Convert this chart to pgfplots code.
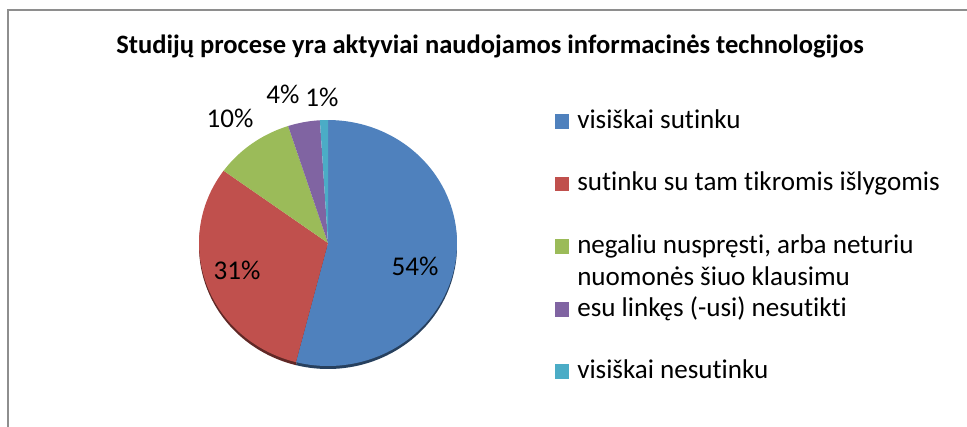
\documentclass[border=0pt]{standalone}
\usepackage{fontspec}
\setmainfont{Carlito}[Ligatures={NoCommon}]
\usepackage{pgfplots}
\pgfplotsset{compat=1.18}
\definecolor{cA}{HTML}{4F81BD}
\definecolor{cB}{HTML}{C0504D}
\definecolor{cC}{HTML}{9BBB59}
\definecolor{cD}{HTML}{8064A2}
\definecolor{cE}{HTML}{4BACC6}
\definecolor{frame}{HTML}{8E8E8E}
% data (percent)
\def\vA{54}\def\vB{31}\def\vC{10}\def\vD{4}\def\vE{1}
\pgfmathsetmacro{\aA}{90}
\pgfmathsetmacro{\aB}{90-3.6*\vA}
\pgfmathsetmacro{\aC}{\aB-3.6*\vB}
\pgfmathsetmacro{\aD}{\aC-3.6*\vC}
\pgfmathsetmacro{\aE}{\aD-3.6*\vD}
\pgfmathsetmacro{\aF}{\aE-3.6*\vE}
\def\cx{328}\def\cy{243}\def\rx{129}\def\ry{123}
\newcommand{\slice}[4]{%
  \addplot[fill=#3, draw=none, domain=#1:#2, samples=90, variable=\t]
    ({\cx+\rx*cos(\t)},{\cy+#4-\ry*sin(\t)}) -- (axis cs:\cx,\cy+#4) -- cycle;}
\begin{document}
\begin{tikzpicture}
\begin{axis}[hide axis, scale only axis, width=725.25pt, height=319.5pt,
  xmin=0, xmax=967, ymin=0, ymax=426, y dir=reverse, clip=false]
\coordinate (BL) at (axis cs:0,426);
\coordinate (TR) at (axis cs:967,0);
% frame
\addplot[draw=frame, line width=1.5pt] coordinates {(8,430) (8,10) (970,10)};
% shadow rim
\slice{\aA}{\aB}{cA!50!black}{3}
\slice{\aB}{\aC}{cB!50!black}{3}
% pie
\slice{\aA}{\aB}{cA}{0}
\slice{\aB}{\aC}{cB}{0}
\slice{\aC}{\aD}{cC}{0}
\slice{\aD}{\aE}{cD}{0}
\slice{\aE}{\aF}{cE}{0}
% title
\node[anchor=base, inner sep=0pt, font=\bfseries\fontsize{19.9pt}{23pt}\selectfont] at (axis cs:490,53) {Studijų procese yra aktyviai naudojamos informacinės technologijos};
% data labels
\begin{scope}[every node/.style={anchor=base, inner sep=0pt, font=\fontsize{20.3pt}{24pt}\selectfont}]
\node at (axis cs:415,275) {\vA\%};
\node at (axis cs:237,279) {\vB\%};
\node at (axis cs:230,127) {\vC\%};
\node at (axis cs:283,103) {\vD\%};
\node at (axis cs:322,106) {\vE\%};
\end{scope}
% legend
\fill[cA] (axis cs:555,114) rectangle (axis cs:569,128.5);
\fill[cB] (axis cs:555,176.5) rectangle (axis cs:569,191);
\fill[cC] (axis cs:555,239) rectangle (axis cs:569,253.5);
\fill[cD] (axis cs:555,302) rectangle (axis cs:569,316.5);
\fill[cE] (axis cs:555,364) rectangle (axis cs:569,378.5);
\begin{scope}[every node/.style={anchor=base west, inner sep=0pt, font=\fontsize{20.3pt}{24pt}\selectfont}]
\node at (axis cs:577,128) {visiškai sutinku};
\node at (axis cs:577,190.5) {sutinku su tam tikromis išlygomis};
\node at (axis cs:577,253) {negaliu nuspręsti, arba neturiu};
\node at (axis cs:577,285) {nuomonės šiuo klausimu};
\node at (axis cs:577,316) {esu linkęs (-usi) nesutikti};
\node at (axis cs:577,378) {visiškai nesutinku};
\end{scope}
\end{axis}
\pgfresetboundingbox
\useasboundingbox (BL) rectangle (TR);
\end{tikzpicture}
\end{document}
